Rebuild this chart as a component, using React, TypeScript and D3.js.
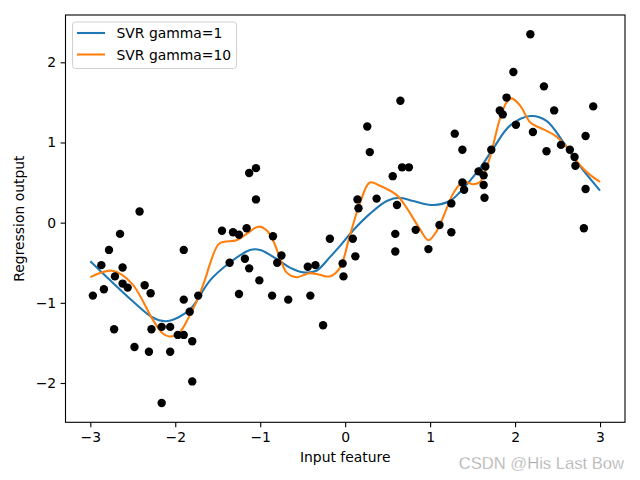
import { useRef, useEffect } from "react";
import * as d3 from "d3";

// scatter of the wave data
const pointX = [
  -2.97, -2.87, -2.84, -2.78, -2.72, -2.71, -2.65, -2.62, -2.62, -2.56,
  -2.48, -2.42, -2.36, -2.31, -2.29, -2.28, -2.16, -2.16, -2.06, -2.06,
  -1.97, -1.90, -1.90, -1.90, -1.83, -1.80, -1.80, -1.73, -1.45, -1.36,
  -1.32, -1.25, -1.25, -1.18, -1.16, -1.13, -1.13, -1.05, -1.05, -1.01,
  -0.86, -0.85, -0.80, -0.75, -0.67, -0.44, -0.41, -0.35, -0.26, -0.18,
  -0.03, -0.02, 0.09, 0.12, 0.145, 0.157, 0.26, 0.29, 0.37, 0.56,
  0.59, 0.59, 0.61, 0.65, 0.67, 0.75, 0.83, 0.98, 1.11, 1.25,
  1.25, 1.29, 1.38, 1.38, 1.40, 1.57, 1.63, 1.63, 1.64, 1.65,
  1.72, 1.82, 1.855, 1.90, 1.98, 2.01, 2.18, 2.21, 2.34, 2.37,
  2.46, 2.54, 2.645, 2.70, 2.71, 2.81, 2.83, 2.83, 2.92,
];
const pointY = [
  -0.91, -0.53, -0.83, -0.34, -1.33, -0.67, -0.14, -0.56, -0.76, -0.81,
  -1.55, 0.14, -0.78, -1.61, -0.88, -1.33, -2.25, -1.30, -1.30, -1.61,
  -1.40, -0.34, -0.96, -1.40, -1.11, -1.98, -1.48, -0.91, -0.10, -0.50,
  -0.12, -0.15, -0.89, -0.45, -0.07, 0.62, -0.57, 0.68, 0.29, -0.72,
  -0.91, -0.17, -0.50, -0.41, -0.96, -0.55, -0.91, -0.53, -1.28, -0.20,
  -0.51, -0.67, -0.20, -0.42, 0.29, 0.18, 1.20, 0.88, 0.30, 0.58,
  -0.14, -0.36, 0.22, 1.52, 0.69, 0.69, -0.09, -0.33, -0.03, -0.12,
  0.24, 1.11, 0.91, 0.50, 0.41, 0.64, 0.59, 0.47, 0.31, 0.70,
  0.91, 1.40, 1.35, 1.56, 1.88, 1.22, 2.35, 1.13, 1.70, 0.89,
  1.40, 0.97, 0.91, 0.82, 0.71, -0.07, 1.08, 0.42, 1.45,
];

// SVR gamma=1 prediction curve
const gamma1X = [
  -3.0, -2.51, -2.27, -2.12, -1.96, -1.80, -1.59, -1.36, -1.12, -1.0,
  -0.81, -0.65, -0.49, -0.34, -0.18, -0.06, 0.09, 0.29, 0.49, 0.64,
  0.80, 1.04, 1.23, 1.35, 1.58, 1.74, 1.94, 2.18, 2.37, 2.57, 2.76, 3.0,
];
const gamma1Y = [
  -0.48, -0.97, -1.18, -1.23, -1.18, -1.05, -0.72, -0.50, -0.34, -0.34,
  -0.45, -0.56, -0.62, -0.60, -0.43, -0.29, -0.10, 0.11, 0.27, 0.31,
  0.27, 0.22, 0.27, 0.38, 0.67, 0.92, 1.21, 1.33, 1.27, 1.00, 0.71, 0.40,
];

// SVR gamma=10 prediction curve
const gamma10X = [
  -3.0, -2.74, -2.51, -2.27, -2.15, -2.07, -1.96, -1.84, -1.72, -1.64,
  -1.59, -1.48, -1.28, -1.16, -1.02, -0.92, -0.85, -0.77, -0.69, -0.57,
  -0.42, -0.30, -0.18, -0.06, 0.05, 0.17, 0.29, 0.41, 0.61, 0.72,
  0.88, 0.98, 1.08, 1.20, 1.28, 1.39, 1.51, 1.59, 1.70, 1.82,
  1.90, 1.96, 2.06, 2.18, 2.34, 2.48, 2.61, 2.77, 2.89, 3.0,
];
const gamma10Y = [
  -0.68, -0.60, -0.76, -1.20, -1.38, -1.42, -1.38, -1.18, -0.91, -0.68,
  -0.51, -0.26, -0.22, -0.14, -0.05, -0.10, -0.22, -0.43, -0.62, -0.68,
  -0.63, -0.65, -0.67, -0.56, -0.18, 0.23, 0.50, 0.46, 0.34, 0.19,
  -0.08, -0.22, -0.10, 0.19, 0.38, 0.51, 0.48, 0.51, 0.80, 1.29,
  1.50, 1.55, 1.46, 1.25, 1.16, 1.08, 0.94, 0.71, 0.59, 0.51,
];

const xTicks = [-3, -2, -1, 0, 1, 2, 3];
const yTicks = [-2, -1, 0, 1, 2];
const seriesNames = ["SVR gamma=1", "SVR gamma=10"];
const seriesColors = ["#1f77b4", "#ff7f0e"];

const FONT = "DejaVu Sans, sans-serif";

export default function App() {
  const ref = useRef<SVGSVGElement>(null);

  useEffect(() => {
    if (!ref.current) return;
    const W = 640;
    const H = 480;
    const left = 65.5, right = 625, top = 15, bottom = 422.3;

    const svg = d3.select(ref.current);
    svg.selectAll("*").remove();

    svg.append("rect").attr("width", W).attr("height", H).attr("fill", "#fff");

    const x = d3.scaleLinear().domain([-3.292, 3.294]).range([left, right]);
    const y = d3.scaleLinear().domain([-2.49, 2.59]).range([bottom, top]);

    const plot = svg.append("g");
    plot.append("clipPath").attr("id", "clip").append("rect")
      .attr("x", left).attr("y", top).attr("width", right - left).attr("height", bottom - top);

    const line = d3.line<[number, number]>()
      .x((d) => x(d[0])).y((d) => y(d[1]))
      .curve(d3.curveCatmullRom.alpha(0.5));

    const curves = [
      d3.zip(gamma1X, gamma1Y) as [number, number][],
      d3.zip(gamma10X, gamma10Y) as [number, number][],
    ];
    curves.forEach((c, i) => {
      plot.append("path").attr("d", line(c)).attr("fill", "none")
        .attr("stroke", seriesColors[i]).attr("stroke-width", 2.08)
        .attr("clip-path", "url(#clip)");
    });

    // points
    pointX.forEach((px, i) => {
      plot.append("circle").attr("cx", x(px)).attr("cy", y(pointY[i]))
        .attr("r", 4.2).attr("fill", "#000");
    });

    // frame
    svg.append("rect").attr("x", left).attr("y", top)
      .attr("width", right - left).attr("height", bottom - top)
      .attr("fill", "none").attr("stroke", "#000").attr("stroke-width", 1.1);

    // Axes
    const xAxis = svg.append("g").attr("transform", `translate(0,${bottom})`)
      .call(d3.axisBottom(x).tickValues(xTicks).tickSize(4.9).tickPadding(4.5)
        .tickFormat((d) => d3.format("")(d as number).replace("-", "\u2212")));
    const yAxis = svg.append("g").attr("transform", `translate(${left},0)`)
      .call(d3.axisLeft(y).tickValues(yTicks).tickSize(4.9).tickPadding(4.5)
        .tickFormat((d) => d3.format("")(d as number).replace("-", "\u2212")));
    [xAxis, yAxis].forEach((a) => {
      a.select(".domain").remove();
      a.selectAll("line").attr("stroke", "#000").attr("stroke-width", 1.1);
      a.selectAll("text").attr("font-family", FONT).attr("font-size", 13.9).attr("fill", "#000");
    });

    // Axis labels
    svg.append("text").attr("x", (left + right) / 2).attr("y", 462)
      .attr("text-anchor", "middle").attr("font-family", FONT).attr("font-size", 13.9)
      .text("Input feature");
    svg.append("text").attr("transform", `translate(24,${(top + bottom) / 2}) rotate(-90)`)
      .attr("text-anchor", "middle").attr("font-family", FONT).attr("font-size", 13.9)
      .text("Regression output");

    // Legend
    const lg = svg.append("g");
    lg.append("rect").attr("x", 72.5).attr("y", 22).attr("width", 164).attr("height", 46.5)
      .attr("rx", 3).attr("fill", "#fff").attr("fill-opacity", 0.8)
      .attr("stroke", "#d0d0d0").attr("stroke-width", 1);
    seriesNames.forEach((name, i) => {
      const ly = 33 + i * 21.5;
      lg.append("line").attr("x1", 77).attr("x2", 105).attr("y1", ly).attr("y2", ly)
        .attr("stroke", seriesColors[i]).attr("stroke-width", 2.08);
      lg.append("text").attr("x", 116.5).attr("y", ly + 5)
        .attr("font-family", FONT).attr("font-size", 13.9).text(name);
    });

    // watermark
    svg.append("text").attr("x", 624).attr("y", 469).attr("text-anchor", "end")
      .attr("font-family", "Liberation Sans, Arial, sans-serif").attr("font-size", 16.6)
      .attr("fill", "#a8a8a8").attr("stroke", "#fff").attr("stroke-width", 0.3)
      .text("CSDN @His Last Bow");
  }, []);

  return (
    <svg ref={ref} width={640} height={480}
      style={{ position: "absolute", left: 0, top: 0, display: "block" }} />
  );
}
